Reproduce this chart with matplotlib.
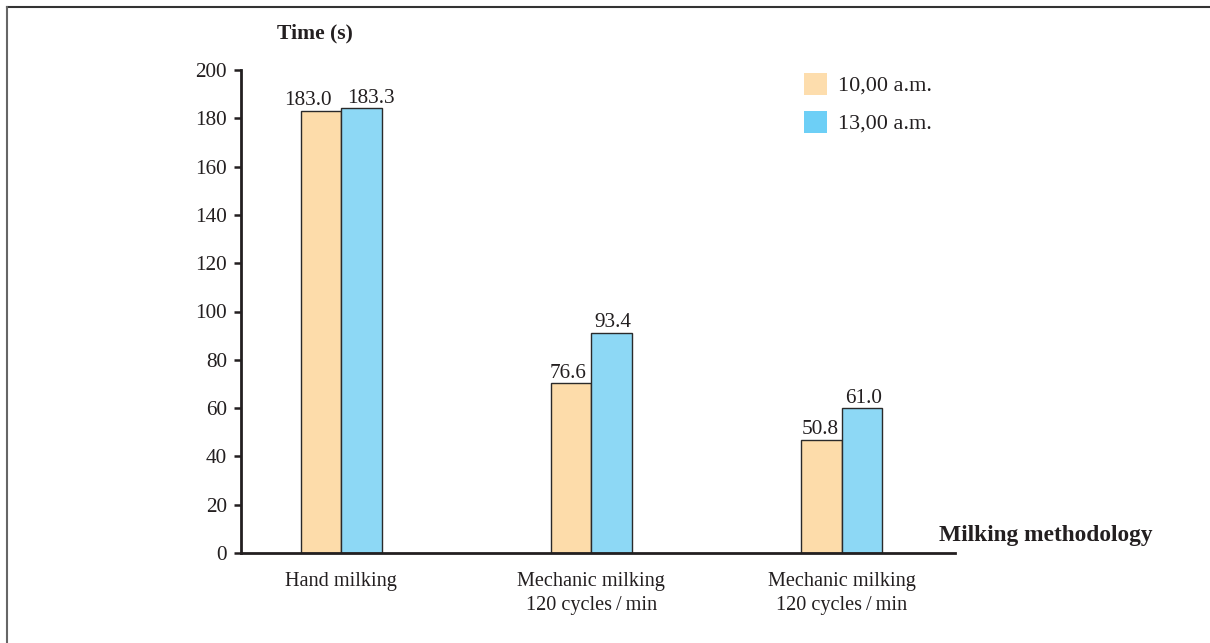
import matplotlib
matplotlib.use("Agg")
import matplotlib.pyplot as plt
from matplotlib.patches import Rectangle
from matplotlib.lines import Line2D

categories = ["Hand milking",
              "Mechanic milking\n120 cycles\u2009/\u2009min",
              "Mechanic milking\n120 cycles\u2009/\u2009min"]
series_names = ["10,00 a.m.", "13,00 a.m."]
heights_10 = [183.0, 70.2, 46.8]
heights_13 = [184.1, 91.2, 60.0]
labels_10 = ["183.0", "76.6", "50.8"]
labels_13 = ["183.3", "93.4", "61.0"]
yticks = [0, 20, 40, 60, 80, 100, 120, 140, 160, 180, 200]

bar_colors = ["#FDDCAA", "#8DD8F5"]
legend_colors = ["#FDDDAD", "#6DCFF6"]
edge = "#2a2a2a"
txt = "#231f20"

plt.rcParams['font.family'] = ['Liberation Serif', 'DejaVu Serif']

W, H = 1210, 643
fig = plt.figure(figsize=(W/100, H/100), dpi=100)
left, right, bottom, top = 240.7, 955, 553, 70
ax = fig.add_axes([left/W, 1-bottom/H, (right-left)/W, (bottom-top)/H])

x = list(range(len(categories)))
bw = 0.162
xs10 = [i - bw/2 for i in x]
xs13 = [i + bw/2 for i in x]
b1 = ax.bar(xs10, heights_10, width=bw, color=bar_colors[0], edgecolor=edge, linewidth=1.0)
b2 = ax.bar(xs13, heights_13, width=bw, color=bar_colors[1], edgecolor=edge, linewidth=1.0)

# horizontal nudges (points) so adjacent labels do not collide
nudge_10 = [-9, -2, -1]
nudge_13 = [7, 1, 1]
for rects, labs, nud in ((b1, labels_10, nudge_10), (b2, labels_13, nudge_13)):
    for r, lab, dx in zip(rects, labs, nud):
        ax.annotate(lab, (r.get_x() + r.get_width()/2, r.get_height()),
                    xytext=(dx, 4), textcoords="offset points",
                    ha="center", va="baseline", fontsize=15.3, color=txt)

ax.set_xlim(-0.401, 2.453)
ax.set_ylim(0, 200)
ax.set_yticks(yticks)
ax.set_yticklabels([str(v) for v in yticks], fontsize=15.3, color=txt)
ax.set_xticks(x)
ax.set_xticklabels(categories, fontsize=14.6, color=txt, linespacing=1.38)
ax.tick_params(axis="x", length=0, pad=13.5)
ax.tick_params(axis="y", direction="out", length=5, width=1.8, pad=5, color=txt)
for s in ("top", "right"):
    ax.spines[s].set_visible(False)
for s in ("left", "bottom"):
    ax.spines[s].set_linewidth(2.0)
    ax.spines[s].set_color(txt)

fig.text(315/W, 1-33/H, "Time (s)", fontsize=15.6, fontweight="bold", ha="center", va="center", color=txt)
fig.text(1046/W, 1-535/H, "Milking methodology", fontsize=16.8, fontweight="bold", ha="center", va="center", color=txt)

# legend
leg_y = [84, 122]
for name, col, yc in zip(series_names, legend_colors, leg_y):
    fig.add_artist(Rectangle((803.5/W, 1-(yc+11)/H), 23/W, 22/H, transform=fig.transFigure,
                             facecolor=col, edgecolor="none"))
    fig.text(838/W, 1-yc/H, name, fontsize=16, ha="left", va="center_baseline", color=txt)

fig.add_artist(Line2D([6.5/W, 1], [1-6.5/H, 1-6.5/H], transform=fig.transFigure, color="#333333", linewidth=1.5))
fig.add_artist(Line2D([6.5/W, 6.5/W], [0, 1-6.5/H], transform=fig.transFigure, color="#666666", linewidth=1.5))

fig.savefig("out.png", dpi=100, facecolor="white")
